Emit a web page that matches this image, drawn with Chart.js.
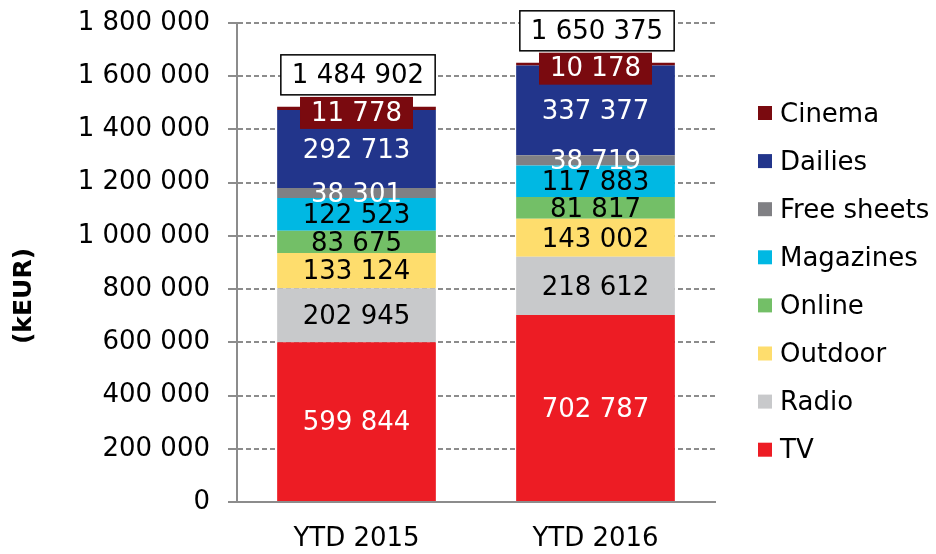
<!DOCTYPE html>
<html>
<head>
<meta charset="utf-8">
<script src="https://cdn.jsdelivr.net/npm/chart.js@4/dist/chart.umd.min.js"></script>
<style>
  html, body { margin: 0; padding: 0; background: #ffffff; }
  #wrap { width: 936px; height: 554px; }
</style>
</head>
<body>
<div id="wrap"><canvas id="c" width="936" height="554"></canvas></div>
<script>
// ---- data ----
const categories = ["YTD 2015", "YTD 2016"];
const seriesNames = ["TV", "Radio", "Outdoor", "Online", "Magazines", "Free sheets", "Dailies", "Cinema"];
const tvValues = [599844, 702787];
const radioValues = [202945, 218612];
const outdoorValues = [133124, 143002];
const onlineValues = [83675, 81817];
const magazinesValues = [122523, 117883];
const freeSheetsValues = [38301, 38719];
const dailiesValues = [292713, 337377];
const cinemaValues = [11778, 10178];
const totals = [1484902, 1650375];
const yTicksMax = 1800000;
const yTickStep = 200000;
const yAxisTitle = "(kEUR)";

// ---- styles ----
const seriesColors = ["#ED1C24", "#C8C9CB", "#FEDD6D", "#73BF67", "#00B8E3", "#808084", "#22358B", "#7A0A0F"];
const labelColors = ["#ffffff", "#000000", "#000000", "#000000", "#000000", "#ffffff", "#ffffff", "#ffffff"];
const FONT = "DejaVu Sans, Verdana, sans-serif";
const FS = 26;

const seriesValues = [tvValues, radioValues, outdoorValues, onlineValues, magazinesValues, freeSheetsValues, dailiesValues, cinemaValues];

function fmt(v) {
  return String(Math.round(v)).replace(/\B(?=(\d{3})+(?!\d))/g, " ");
}

const datasets = seriesNames.map((name, i) => ({
  label: name,
  data: seriesValues[i],
  backgroundColor: seriesColors[i],
  borderWidth: 0,
  barPercentage: 0.664,
  categoryPercentage: 1.0
}));

const labelPlugin = {
  id: "segLabels",
  afterDatasetsDraw(chart) {
    const ctx = chart.ctx;
    ctx.save();
    ctx.font = FS + "px " + FONT;
    ctx.textAlign = "center";
    ctx.textBaseline = "middle";
    const n = chart.data.datasets.length;
    chart.data.datasets.forEach((ds, di) => {
      const meta = chart.getDatasetMeta(di);
      meta.data.forEach((bar, j) => {
        const txt = fmt(ds.data[j]);
        let cy = (bar.y + bar.base) / 2;
        if (di === n - 1) {
          cy += 4.5;
          const w = ctx.measureText(txt).width + 22;
          const h = 32;
          ctx.fillStyle = seriesColors[di];
          ctx.fillRect(bar.x - w / 2, cy - h / 2, w, h);
          ctx.fillStyle = labelColors[di];
          ctx.fillText(txt, bar.x, cy + 1);
        } else {
          ctx.fillStyle = labelColors[di];
          ctx.fillText(txt, bar.x, cy + 2);
        }
      });
    });
    // totals
    const topMeta = chart.getDatasetMeta(n - 1);
    topMeta.data.forEach((bar, j) => {
      const txt = fmt(totals[j]);
      const w = ctx.measureText(txt).width + 22;
      const h = 40;
      const cx = bar.x + 1.5;
      const cy = chart.scales.y.getPixelForValue(totals[j]) - 32;
      ctx.fillStyle = "#ffffff";
      ctx.fillRect(cx - w / 2, cy - h / 2, w, h);
      ctx.strokeStyle = "#000000";
      ctx.lineWidth = 1.5;
      ctx.strokeRect(cx - w / 2, cy - h / 2, w, h);
      ctx.fillStyle = "#000000";
      ctx.fillText(txt, cx, cy + 1);
    });
    ctx.restore();
  }
};

const extrasPlugin = {
  id: "extras",
  afterDraw(chart) {
    const ctx = chart.ctx;
    ctx.save();
    ctx.translate(24, 296);
    ctx.rotate(-Math.PI / 2);
    ctx.font = "bold 25px " + FONT;
    ctx.fillStyle = "#000000";
    ctx.textAlign = "center";
    ctx.textBaseline = "middle";
    ctx.fillText(yAxisTitle, 0, 0);
    ctx.restore();

    ctx.save();
    ctx.font = FS + "px " + FONT;
    ctx.textAlign = "left";
    ctx.textBaseline = "middle";
    const dsList = chart.data.datasets.slice().reverse();
    dsList.forEach((ds, k) => {
      const cy = 113 + k * 48.1;
      ctx.fillStyle = ds.backgroundColor;
      ctx.fillRect(758, cy - 7, 14, 14);
      ctx.fillStyle = "#000000";
      ctx.fillText(ds.label, 780, cy + 2);
    });
    ctx.restore();
  }
};

new Chart(document.getElementById("c"), {
  type: "bar",
  data: { labels: categories, datasets: datasets },
  options: {
    responsive: false,
    animation: false,
    layout: { padding: { left: 0, right: 221, top: 23, bottom: 0 } },
    plugins: {
      legend: { display: false },
      tooltip: { enabled: false },
      title: { display: false }
    },
    scales: {
      x: {
        stacked: true,
        grid: { display: false, drawTicks: false },
        border: { display: true, color: "#8c8c8c", width: 2 },
        ticks: { color: "#000000", font: { family: FONT, size: FS }, padding: 22 },
        afterFit(scale) { scale.height = 52; }
      },
      y: {
        stacked: true,
        min: 0,
        max: yTicksMax,
        ticks: {
          stepSize: yTickStep,
          color: "#000000",
          font: { family: FONT, size: FS },
          padding: 18,
          callback: (v) => fmt(v)
        },
        grid: {
          color: "#8c8c8c",
          lineWidth: 2,
          tickLength: 9,
          tickBorderDash: [],
          tickColor: "#8c8c8c"
        },
        border: { display: true, color: "#8c8c8c", width: 2, dash: [5, 3] },
        afterFit(scale) { scale.width = 237; scale.paddingTop = 0; scale.paddingBottom = 0; }
      }
    }
  },
  plugins: [labelPlugin, extrasPlugin]
});
</script>
</body>
</html>
